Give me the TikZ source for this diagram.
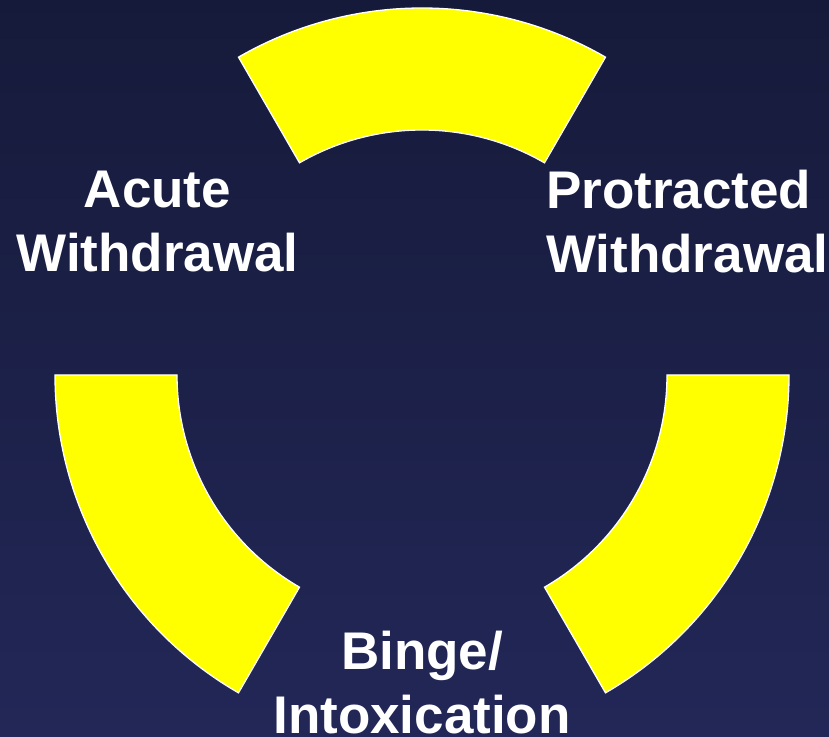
\documentclass[tikz,border=0pt]{standalone}
\usepackage{fontspec}
\setmainfont{Liberation Sans}
\definecolor{bgtop}{RGB}{22,26,58}
\definecolor{bgbot}{RGB}{34,39,87}
\definecolor{segyellow}{RGB}{255,255,0}
\begin{document}
\begin{tikzpicture}[x=1pt,y=1pt,
  seg/.style={fill=segyellow,draw=white,line width=1.3pt,line join=miter},
  lbl/.style={text=white,font=\fontsize{53}{64}\selectfont\bfseries,inner sep=0pt}]
\useasboundingbox (0,0) rectangle (829,736);
\shade[top color=bgtop,bottom color=bgbot] (0,0) rectangle (829,736);
\coordinate (c) at (422,361);
% top segment
\draw[seg] ([shift={(60:367)}]c) arc[start angle=60,end angle=120,radius=367]
  -- ([shift={(120:245)}]c) arc[start angle=120,end angle=60,radius=245] -- cycle;
% left segment
\draw[seg] ([shift={(180:367)}]c) arc[start angle=180,end angle=240,radius=367]
  -- ([shift={(240:245)}]c) arc[start angle=240,end angle=180,radius=245] -- cycle;
% right segment
\draw[seg] ([shift={(300:367)}]c) arc[start angle=300,end angle=360,radius=367]
  -- ([shift={(0:245)}]c) arc[start angle=360,end angle=300,radius=245] -- cycle;
\node[lbl,align=center] (acute) at (157.5,514) {Acute\\Withdrawal};
\node[lbl,align=left,anchor=west] (protracted) at (546,514) {Protracted\\Withdrawal};
\node[lbl,align=center] (binge) at (422,53) {Binge/\\Intoxication};
\end{tikzpicture}
\end{document}
